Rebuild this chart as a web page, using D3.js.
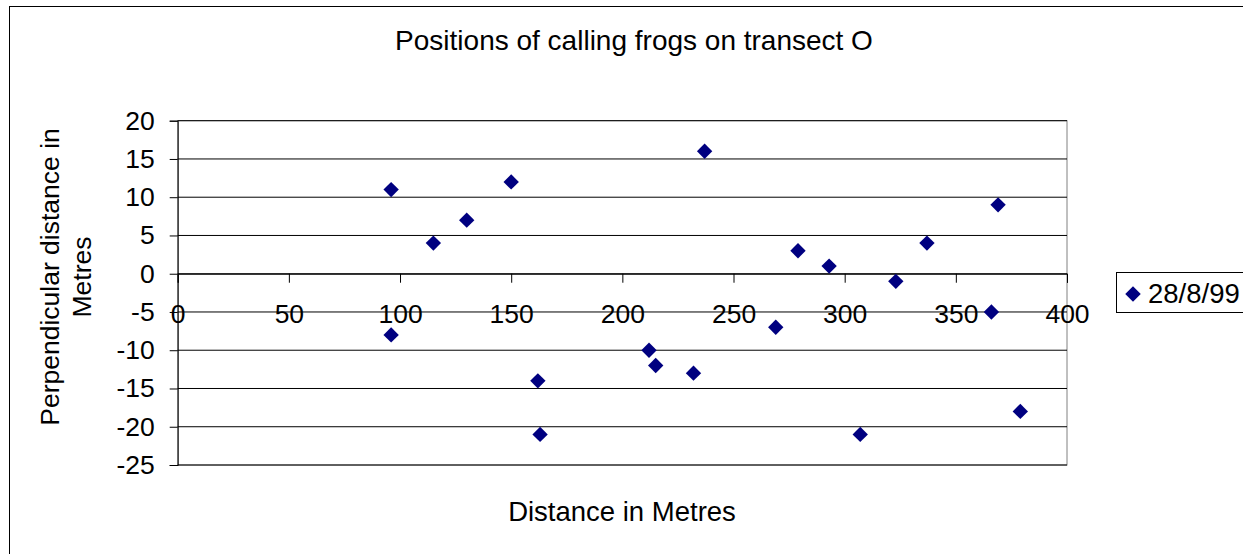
<!DOCTYPE html>
<html>
<head>
<meta charset="utf-8">
<script src="https://cdn.jsdelivr.net/npm/d3@7"></script>
<style>
  body { margin: 0; background: #fff; }
  svg text { font-family: "Liberation Sans", Arial, sans-serif; fill: #000; }
</style>
</head>
<body>
<script>
// frog positions (28/8/99)
var distance = [96, 96, 115, 130, 150, 162, 163, 212, 215, 232, 237, 269, 279, 293, 307, 323, 337, 366, 369, 379];
var perpendicular = [11, -8, 4, 7, 12, -14, -21, -10, -12, -13, 16, -7, 3, 1, -21, -1, 4, -5, 9, -18];
var xTicks = [0, 50, 100, 150, 200, 250, 300, 350, 400];
var yTicks = [20, 15, 10, 5, 0, -5, -10, -15, -20, -25];
var seriesName = "28/8/99";

var width = 1243, height = 554;
// plot area edges (note: "top" is taken by window.top)
var plotLeft = 177.7, plotRight = 1067, plotTop = 120.7, plotBottom = 465;

var svg = d3.select("body").append("svg").attr("width", width).attr("height", height);

// chart area border (runs off the right and bottom of the picture)
svg.append("rect").attr("x", 9.5).attr("y", 6.5).attr("width", 1400).attr("height", 700)
  .attr("fill", "#fff").attr("stroke", "#000").attr("stroke-width", 1);

var x = d3.scaleLinear().domain([0, 400]).range([plotLeft, plotRight]);
var y = d3.scaleLinear().domain([-25, 20]).range([plotBottom, plotTop]);

// plot area
svg.append("rect").attr("x", plotLeft).attr("y", plotTop)
  .attr("width", plotRight - plotLeft).attr("height", plotBottom - plotTop)
  .attr("fill", "#fff").attr("stroke", "#808080").attr("stroke-width", 1);

// horizontal gridlines
svg.append("g").selectAll("line").data(yTicks).join("line")
  .attr("x1", plotLeft).attr("x2", plotRight)
  .attr("y1", function(d) { return y(d); })
  .attr("y2", function(d) { return y(d); })
  .attr("stroke", "#000").attr("stroke-width", 1);

// plain hyphen for negatives, like the original
var plain = function(d) { return String(d); };

// y axis
var yAxis = svg.append("g").attr("transform", "translate(" + plotLeft + ",0)")
  .call(d3.axisLeft(y).tickValues(yTicks).tickFormat(plain).tickSize(8).tickPadding(15));
yAxis.select(".domain").attr("stroke", "#000");
yAxis.selectAll(".tick line").attr("stroke", "#000");
yAxis.selectAll("text").style("font-size", "26.5px").attr("fill", "#000");

// x axis through zero
var xAxis = svg.append("g").attr("transform", "translate(0," + y(0) + ")")
  .call(d3.axisBottom(x).tickValues(xTicks).tickFormat(plain).tickSize(9).tickPadding(21));
xAxis.select(".domain").attr("stroke", "#000");
xAxis.selectAll(".tick line").attr("stroke", "#000");
xAxis.selectAll("text").style("font-size", "26.5px").attr("fill", "#000");

// points
var diamond = d3.symbol().type(d3.symbolSquare).size(118);
svg.append("g").selectAll("path").data(distance).join("path")
  .attr("d", diamond)
  .attr("transform", function(d, i) {
    return "translate(" + x(d) + "," + y(perpendicular[i]) + ") rotate(45)";
  })
  .attr("fill", "#000080");

// titles
svg.append("text").attr("x", 634).attr("y", 50).attr("text-anchor", "middle")
  .style("font-size", "28px").text("Positions of calling frogs on transect O");

svg.append("text").attr("x", 622).attr("y", 521).attr("text-anchor", "middle")
  .style("font-size", "27.5px").text("Distance in Metres");

var yTitle = svg.append("text").attr("transform", "translate(59,277) rotate(-90)")
  .attr("text-anchor", "middle").style("font-size", "26.5px");
yTitle.append("tspan").attr("x", 0).attr("y", 0).text("Perpendicular distance in");
yTitle.append("tspan").attr("x", 0).attr("y", 32).text("Metres");

// legend
var legend = svg.append("g");
legend.append("rect").attr("x", 1116.5).attr("y", 272.5).attr("width", 200).attr("height", 40)
  .attr("fill", "#fff").attr("stroke", "#000").attr("stroke-width", 1);
legend.append("path").attr("d", d3.symbol().type(d3.symbolSquare).size(120))
  .attr("transform", "translate(1133,294) rotate(45)").attr("fill", "#000080");
legend.append("text").attr("x", 1148).attr("y", 303).style("font-size", "27.5px").text(seriesName);
</script>
</body>
</html>
